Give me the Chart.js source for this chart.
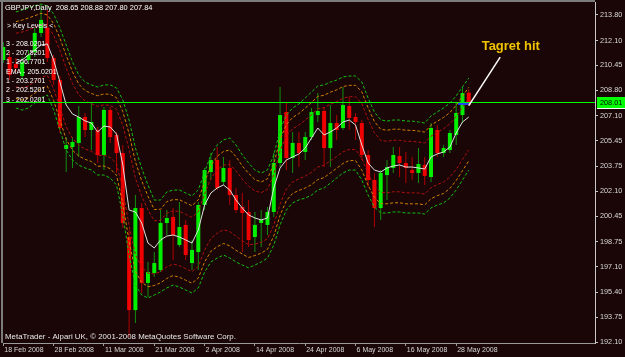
<!DOCTYPE html>
<html><head><meta charset="utf-8">
<script src="https://cdn.jsdelivr.net/npm/chart.js@4"></script>
<style>html,body{margin:0;padding:0;background:#1a0606;overflow:hidden}</style>
</head><body>
<canvas id="c" width="625" height="357"></canvas>
<script>
// ---------------- DATA ----------------
const dates = ["18 Feb 2008","19 Feb 2008","20 Feb 2008","21 Feb 2008","22 Feb 2008","25 Feb 2008","26 Feb 2008","27 Feb 2008","28 Feb 2008","29 Feb 2008",
"3 Mar 2008","4 Mar 2008","5 Mar 2008","6 Mar 2008","7 Mar 2008","10 Mar 2008","11 Mar 2008","12 Mar 2008","13 Mar 2008","14 Mar 2008",
"17 Mar 2008","18 Mar 2008","19 Mar 2008","20 Mar 2008","21 Mar 2008","24 Mar 2008","25 Mar 2008","26 Mar 2008","27 Mar 2008","28 Mar 2008",
"31 Mar 2008","1 Apr 2008","2 Apr 2008","3 Apr 2008","4 Apr 2008","7 Apr 2008","8 Apr 2008","9 Apr 2008","10 Apr 2008","11 Apr 2008",
"14 Apr 2008","15 Apr 2008","16 Apr 2008","17 Apr 2008","18 Apr 2008","21 Apr 2008","22 Apr 2008","23 Apr 2008","24 Apr 2008","25 Apr 2008",
"28 Apr 2008","29 Apr 2008","30 Apr 2008","1 May 2008","2 May 2008","5 May 2008","6 May 2008","7 May 2008","8 May 2008","9 May 2008",
"12 May 2008","13 May 2008","14 May 2008","15 May 2008","16 May 2008","19 May 2008","20 May 2008","21 May 2008","22 May 2008","23 May 2008",
"26 May 2008","27 May 2008","28 May 2008","29 May 2008","30 May 2008"];

const openP = [210.81,211.01,210.55,209.75,210.81,211.34,212.61,212.94,210.95,209.49,
204.91,205.04,205.31,207.03,206.17,206.17,204.51,207.50,205.84,204.64,
199.07,194.22,200.99,196.02,196.68,196.88,200.00,200.40,198.54,199.87,
197.34,198.07,201.19,203.38,204.18,202.72,203.65,201.86,201.06,200.73,
199.07,200.00,199.87,200.73,203.98,207.36,204.31,205.31,204.71,205.70,
207.16,207.43,204.97,206.63,206.30,207.76,207.03,206.63,204.51,202.85,
200.99,203.18,203.65,204.44,203.98,203.51,203.32,203.85,203.05,206.17,
204.64,204.84,205.84,207.16,208.65];

const highP = [212.01,211.34,210.95,211.01,211.48,212.94,214.46,214.13,211.15,209.75,
205.70,205.70,207.76,207.30,207.96,206.37,207.70,207.70,206.04,205.17,
199.53,201.86,201.33,197.41,198.07,200.86,200.86,200.99,201.39,200.20,
198.87,201.39,203.65,204.64,205.04,204.38,204.18,202.32,201.99,201.52,
200.73,200.86,201.06,204.64,209.02,208.03,206.04,206.04,206.04,207.63,
208.62,207.70,207.83,207.16,209.02,208.36,207.30,206.83,204.84,203.32,
203.51,204.18,205.04,205.04,204.71,204.38,204.97,204.38,206.63,206.50,
205.17,206.17,207.96,209.02,208.88];

const lowP = [210.62,209.49,210.02,209.49,210.55,211.01,212.34,210.68,209.16,205.97,
203.38,203.65,204.38,205.70,204.84,203.98,203.51,205.31,203.32,199.67,
192.43,193.36,195.35,195.09,196.41,196.75,199.20,197.54,198.41,197.54,
196.88,196.88,200.86,202.85,202.19,202.52,201.19,200.66,198.07,198.41,
198.07,198.41,199.20,200.40,203.71,203.51,203.32,203.71,204.18,205.51,
206.70,203.71,203.71,205.51,206.17,206.17,205.51,204.18,202.39,199.73,
200.20,201.52,203.32,203.05,202.65,202.85,202.65,202.52,202.72,204.38,
204.38,204.64,205.17,206.63,207.80];

const closeP = [211.68,209.82,210.28,210.68,211.15,212.61,213.47,210.95,209.49,206.30,
205.17,205.37,207.03,206.17,206.70,204.51,207.50,205.70,204.64,200.00,
194.22,200.99,196.02,196.75,197.34,200.00,200.33,199.20,199.73,197.87,
198.21,201.19,203.51,204.18,202.32,203.65,201.86,200.86,200.66,198.87,
199.87,200.20,200.73,203.98,207.16,204.31,205.31,204.64,205.70,207.36,
207.43,204.97,206.63,206.17,207.83,206.97,206.70,204.51,202.85,200.99,
203.32,203.71,204.51,203.98,203.65,203.32,203.91,203.12,206.30,204.64,
204.97,205.97,207.30,208.62,207.84];

const emaLine = [null,null,210.62,210.81,211.15,211.48,211.81,211.88,210.81,209.36,
207.83,207.23,207.03,206.77,206.63,206.04,206.43,206.37,205.90,203.85,
200.86,200.73,200.00,198.67,198.34,198.87,199.13,199.20,199.07,198.87,
198.67,199.53,201.19,201.99,202.32,202.52,202.19,201.52,200.99,200.53,
200.33,200.20,200.33,202.32,203.65,204.18,204.38,204.58,204.97,205.64,
206.30,205.84,206.04,206.30,206.70,206.83,206.50,205.17,203.98,203.51,
203.38,203.65,203.78,203.85,203.71,203.71,203.65,203.58,204.38,204.58,
204.71,205.04,205.97,206.70,207.03];

const upperGreen = [null,null,214.00,214.13,214.27,214.40,214.53,214.39,213.87,212.93,
211.81,210.68,209.82,209.35,209.16,209.02,209.16,209.16,208.96,208.16,
206.83,204.98,203.64,202.52,201.52,201.52,202.06,202.18,202.19,201.99,
201.79,202.19,203.38,204.51,205.17,205.51,205.64,205.17,204.51,203.98,
203.51,203.31,203.51,204.51,206.17,207.16,207.63,207.90,208.29,208.69,
209.09,209.16,209.35,209.48,209.69,209.75,209.75,209.35,208.29,207.36,
206.84,206.76,206.83,206.83,206.76,206.76,206.70,206.63,207.10,207.37,
207.63,207.96,208.43,209.03,209.61];

const upperOrange = [null,null,213.36,213.46,213.60,213.75,213.91,213.80,213.23,212.26,
211.12,210.03,209.22,208.78,208.60,208.44,208.56,208.54,208.31,207.39,
205.93,204.07,202.80,201.77,200.89,200.91,201.42,201.55,201.54,201.34,
201.14,201.54,202.71,203.80,204.42,204.74,204.85,204.40,203.78,203.29,
202.88,202.72,202.93,203.91,205.54,206.53,207.00,207.26,207.62,208.00,
208.40,208.47,208.68,208.83,209.05,209.13,209.13,208.70,207.64,206.73,
206.22,206.15,206.22,206.22,206.15,206.15,206.10,206.03,206.49,206.75,
207.00,207.33,207.81,208.41,209.00];

const upperRed = [null,null,212.59,212.67,212.81,212.98,213.16,213.09,212.46,211.45,
210.28,209.25,208.50,208.10,207.92,207.74,207.84,207.80,207.54,206.48,
204.86,202.98,201.79,200.87,200.14,200.18,200.65,200.80,200.77,200.57,
200.37,200.76,201.92,202.95,203.52,203.83,203.89,203.46,202.90,202.45,
202.13,202.01,202.23,203.19,204.79,205.78,206.25,206.49,206.83,207.18,
207.57,207.65,207.88,208.05,208.28,208.38,208.38,207.92,206.87,205.98,
205.48,205.42,205.49,205.49,205.42,205.42,205.37,205.30,205.76,206.01,
206.25,206.58,207.06,207.67,208.27];

const lowerRed = [null,null,209.03,208.95,209.09,209.38,209.66,209.79,208.90,207.66,
206.38,205.61,205.16,204.90,204.76,204.47,204.50,204.34,203.94,202.20,
199.84,197.89,197.07,196.67,196.61,196.76,197.09,197.27,197.17,196.97,
196.77,197.12,198.20,198.97,199.32,199.55,199.43,199.12,198.82,198.55,
198.60,198.71,198.96,199.85,201.26,202.25,202.72,202.93,203.11,203.36,
203.71,203.83,204.12,204.41,204.72,204.88,204.88,204.28,203.27,202.45,
202.02,202.00,202.07,202.07,202.00,202.00,201.99,201.92,202.34,202.55,
202.72,203.05,203.56,204.21,204.85];

const lowerOrange = [null,null,208.26,208.16,208.30,208.61,208.92,209.08,208.13,206.84,
205.54,204.83,204.44,204.22,204.08,203.76,203.78,203.60,203.17,201.29,
198.77,196.79,196.06,195.77,195.85,196.03,196.32,196.51,196.40,196.20,
196.00,196.34,197.41,198.12,198.42,198.64,198.48,198.18,197.94,197.71,
197.84,198.00,198.25,199.13,200.50,201.49,201.96,202.16,202.32,202.54,
202.88,203.01,203.32,203.63,203.95,204.14,204.14,203.50,202.50,201.69,
201.28,201.27,201.34,201.34,201.27,201.27,201.27,201.20,201.61,201.81,
201.96,202.29,202.82,203.47,204.12];

const lowerGreen = [null,null,207.63,207.49,207.63,207.96,208.29,208.49,207.50,206.17,
204.85,204.18,203.84,203.65,203.52,203.18,203.18,202.98,202.52,200.52,
197.87,195.89,195.22,195.02,195.22,195.42,195.69,195.88,195.75,195.55,
195.35,195.69,196.74,197.41,197.67,197.87,197.68,197.41,197.21,197.02,
197.21,197.41,197.67,198.53,199.87,200.86,201.33,201.53,201.65,201.85,
202.19,202.32,202.65,202.98,203.32,203.51,203.51,202.85,201.85,201.06,
200.66,200.66,200.73,200.73,200.66,200.66,200.66,200.59,201.00,201.19,
201.33,201.66,202.19,202.85,203.51];

const xTickIdx = [0,8,16,24,32,40,48,56,64,72];
const yTicks = [213.80,212.10,210.45,208.80,207.10,205.45,203.75,202.10,200.45,198.75,197.10,195.40,193.75,192.10];

const titleText = "GBPJPY,Daily  208.65 208.88 207.80 207.84";
const keyLevelsTitle = "> Key Levels <";
const keyLevels = ["3 - 208.0201","2 - 207.5201","1 - 206.7701","EMA - 205.0201","1 - 203.2701","2 - 202.5201","3 - 202.0201"];
const levelPrice = 208.01;
const levelLabel = "208.01";
const copyright = "MetaTrader - Alpari UK, \u00A9 2001-2008 MetaQuotes Software Corp.";
const annotText = "Tagret hit";
const annotTextAt = {i: 76.05, p: 211.70};
const annotFrom = {i: 79.0, p: 211.00};
const annotTo = {i: 74.0, p: 207.78};
const blueMark = {i0: 72.3, i1: 74.0, p: 207.90};

// ---------------- STYLE ----------------
const BG = '#1a0606';
const BODY_UP = '#00f000', BODY_DN = '#f00000';
const WICK_UP = '#109010', WICK_DN = '#b00000';
const FONT = '"Liberation Sans", Arial, sans-serif';

const idx = dates.map((d, i) => i);
const bull = idx.map(i => closeP[i] >= openP[i]);
const wickData = idx.map(i => ({x: i, y: [lowP[i], highP[i]]}));
const bodyData = idx.map(i => ({x: i, y: [openP[i], closeP[i]]}));
const pts = arr => idx.map(i => ({x: i, y: arr[i]}));

function band(arr, color) {
  return {type: 'line', data: pts(arr), borderColor: color, borderWidth: 1, borderDash: [3, 2],
    pointRadius: 0, tension: 0, spanGaps: false, order: 5};
}

const datasets = [
  {type: 'bar', data: wickData, backgroundColor: bull.map(b => b ? WICK_UP : WICK_DN),
   barThickness: 1, maxBarThickness: 1, grouped: false, borderWidth: 0, inflateAmount: 0, order: 10},
  {type: 'bar', data: bodyData, backgroundColor: bull.map(b => b ? BODY_UP : BODY_DN),
   barThickness: 4, maxBarThickness: 4, grouped: false, borderWidth: 0, inflateAmount: 0, order: 9},
  band(upperGreen, '#14c014'), band(upperOrange, '#d08000'), band(upperRed, '#b01010'),
  band(lowerRed, '#b01010'), band(lowerOrange, '#d08000'), band(lowerGreen, '#14c014'),
  {type: 'line', data: pts(emaLine), borderColor: '#e0e0e0', borderWidth: 1, pointRadius: 0,
   tension: 0, spanGaps: false, order: 1}
];

function noPad(s) { s.paddingTop = 0; s.paddingBottom = 0; s.paddingLeft = 0; s.paddingRight = 0; }

const overlay = {
  id: 'overlay',
  beforeDraw(chart) {
    const ctx = chart.ctx;
    ctx.save(); ctx.fillStyle = BG; ctx.fillRect(0, 0, chart.width, chart.height); ctx.restore();
  },
  afterDraw(chart) {
    const ctx = chart.ctx, a = chart.chartArea, xs = chart.scales.x, ys = chart.scales.y;
    ctx.save();
    // frame top / left
    ctx.strokeStyle = '#7c7c7c'; ctx.lineWidth = 2;
    ctx.beginPath(); ctx.moveTo(0, 1); ctx.lineTo(a.right, 1);
    ctx.moveTo(2, 0); ctx.lineTo(2, a.bottom); ctx.stroke();
    // level line
    const ly = Math.round(ys.getPixelForValue(levelPrice)) + 0.5;
    ctx.strokeStyle = '#00ff00'; ctx.lineWidth = 1;
    ctx.beginPath(); ctx.moveTo(a.left, ly); ctx.lineTo(a.right, ly); ctx.stroke();
    // price label on axis
    ctx.fillStyle = '#00ff00';
    ctx.fillRect(a.right + 2, ly - 5.5, 28, 11);
    ctx.strokeStyle = '#ffffff'; ctx.beginPath(); ctx.moveTo(a.right + 2, ly + 6); ctx.lineTo(625, ly + 6); ctx.stroke();
    ctx.fillStyle = '#000000'; ctx.font = '7.3px ' + FONT; ctx.textBaseline = 'middle'; ctx.textAlign = 'left';
    ctx.fillText(levelLabel, a.right + 5, ly + 0.5);
    // blue marker
    ctx.strokeStyle = '#2040ff'; ctx.lineWidth = 2;
    const by = ys.getPixelForValue(blueMark.p);
    ctx.beginPath(); ctx.moveTo(xs.getPixelForValue(blueMark.i0), by); ctx.lineTo(xs.getPixelForValue(blueMark.i1), by); ctx.stroke();
    // annotation
    ctx.strokeStyle = '#ffffff'; ctx.lineWidth = 1.5;
    ctx.beginPath();
    ctx.moveTo(xs.getPixelForValue(annotFrom.i), ys.getPixelForValue(annotFrom.p));
    ctx.lineTo(xs.getPixelForValue(annotTo.i), ys.getPixelForValue(annotTo.p));
    ctx.stroke();
    ctx.fillStyle = '#f0c400'; ctx.font = 'bold 13px ' + FONT;
    ctx.fillText(annotText, xs.getPixelForValue(annotTextAt.i), ys.getPixelForValue(annotTextAt.p));
    // title and key levels
    ctx.fillStyle = '#ffffff';
    ctx.font = '7.4px ' + FONT;
    ctx.fillText(titleText, 5, 7.5);
    ctx.font = '7px ' + FONT;
    ctx.fillText(keyLevelsTitle, 7, 26);
    const ky = [44.5, 53.5, 62.5, 72, 81.5, 90.5, 100];
    keyLevels.forEach((t, k) => ctx.fillText(t, 6, ky[k]));
    ctx.fillStyle = '#e8e8e8'; ctx.font = '7.9px ' + FONT;
    ctx.fillText(copyright, 5, 337);
    ctx.restore();
  }
};

new Chart(document.getElementById('c'), {
  type: 'bar',
  data: {datasets},
  options: {
    responsive: false, animation: false, devicePixelRatio: 1, events: [],
    layout: {padding: {left: 3, top: 2, right: 0, bottom: 0}},
    plugins: {legend: {display: false}, tooltip: {enabled: false}},
    scales: {
      x: {
        type: 'linear', min: -0.048, max: 94.07, offset: false,
        afterBuildTicks: s => { s.ticks = xTickIdx.map(v => ({value: v})); },
        afterFit: s => { s.height = 14; noPad(s); },
        grid: {display: true, drawOnChartArea: false, drawTicks: true, tickLength: 3, color: '#9a9a9a', offset: false},
        border: {display: true, color: '#9a9a9a', width: 1},
        ticks: {autoSkip: false, maxRotation: 0, minRotation: 0, align: 'start', padding: 0, labelOffset: 1,
          color: '#d8d8d8', font: {family: FONT, size: 7}, callback: v => dates[v]}
      },
      y: {
        type: 'linear', position: 'right', min: 192.035, max: 214.662, beginAtZero: false,
        afterBuildTicks: s => { s.ticks = yTicks.map(v => ({value: v})); },
        afterFit: s => { s.width = 30; noPad(s); },
        grid: {display: true, drawOnChartArea: false, drawTicks: true, tickLength: 3, color: '#c8c8c8'},
        border: {display: true, color: '#c8c8c8', width: 1},
        ticks: {padding: 2, color: '#d8d8d8', font: {family: FONT, size: 7.3}, callback: v => v.toFixed(2)}
      }
    }
  },
  plugins: [overlay]
});
</script>
</body></html>
